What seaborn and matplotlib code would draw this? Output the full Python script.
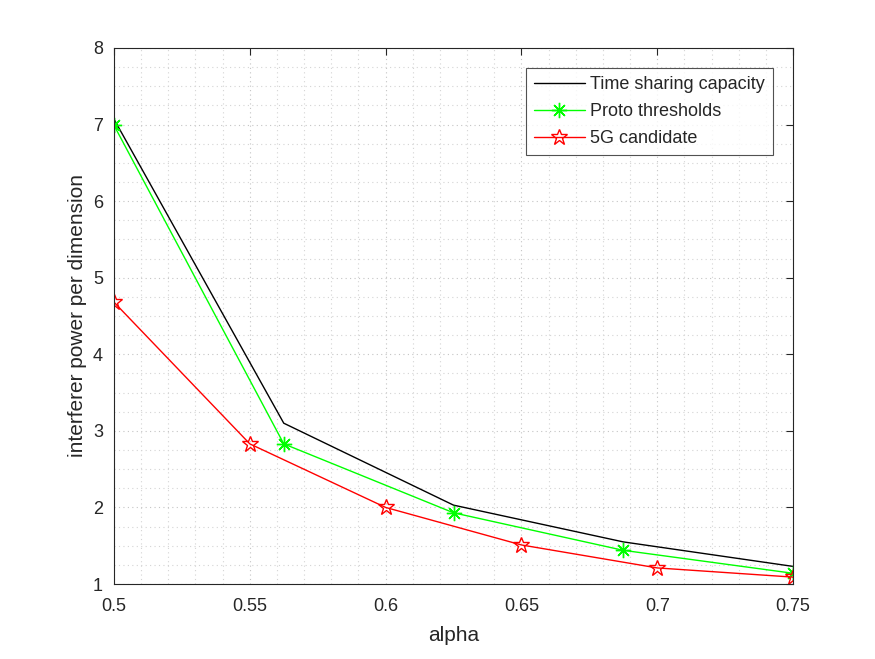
import matplotlib
matplotlib.use("Agg")
import matplotlib.pyplot as plt
from matplotlib.ticker import MultipleLocator
import seaborn as sns
import pandas as pd

# data
alpha_coarse = [0.5, 0.5625, 0.625, 0.6875, 0.75]
time_sharing = [7.07, 3.10, 2.03, 1.55, 1.23]
proto = [6.99, 2.83, 1.93, 1.44, 1.14]
alpha_fine = [0.5, 0.55, 0.6, 0.65, 0.7, 0.75]
candidate_5g = [4.68, 2.83, 2.00, 1.51, 1.21, 1.09]
labels = ["Time sharing capacity", "Proto thresholds", "5G candidate"]

sns.set_style("white")
plt.rcParams["font.family"] = ["Liberation Sans", "DejaVu Sans"]

fig = plt.figure(figsize=(8.75, 6.59), dpi=100)
ax = fig.add_axes([0.1303, 0.1138, 0.776, 0.8134])

df1 = pd.DataFrame({"alpha": alpha_coarse, "p": time_sharing})
df2 = pd.DataFrame({"alpha": alpha_coarse, "p": proto})
df3 = pd.DataFrame({"alpha": alpha_fine, "p": candidate_5g})

sns.lineplot(data=df1, x="alpha", y="p", ax=ax, color="black", lw=1,
             label=labels[0])
sns.lineplot(data=df2, x="alpha", y="p", ax=ax, color="#00ff00", lw=1,
             marker=(8, 2, 0), markersize=11, markeredgewidth=1,
             markeredgecolor="#00ff00", label=labels[1])
sns.lineplot(data=df3, x="alpha", y="p", ax=ax, color="red", lw=1,
             marker="*", markersize=12, markerfacecolor="none",
             markeredgewidth=1, markeredgecolor="red", label=labels[2])

ax.set_xlim(0.5, 0.75)
ax.set_ylim(1, 8)
ax.xaxis.set_major_locator(MultipleLocator(0.05))
ax.xaxis.set_minor_locator(MultipleLocator(0.01))
ax.yaxis.set_major_locator(MultipleLocator(1))
ax.yaxis.set_minor_locator(MultipleLocator(0.25))
ax.set_xticks([0.5, 0.55, 0.6, 0.65, 0.7, 0.75])
ax.set_xticklabels(["0.5", "0.55", "0.6", "0.65", "0.7", "0.75"])

ax.grid(which="major", color="#c4c4c4", linestyle=(0, (1, 3)), linewidth=0.8)
ax.grid(which="minor", color="#d4d4d4", linestyle=(0, (1, 3)), linewidth=0.8)
ax.set_axisbelow(True)

ax.tick_params(which="both", direction="in", top=True, right=True,
               labelsize=13, colors="#262626", length=5)
ax.tick_params(axis="x", pad=10)
ax.tick_params(axis="y", pad=8)
ax.tick_params(which="minor", length=0)
for s in ax.spines.values():
    s.set_color("#262626")
    s.set_linewidth(0.8)

ax.set_xlabel("alpha", fontsize=15, color="#262626", labelpad=8)
ax.set_ylabel("interferer power per dimension", fontsize=15, color="#262626",
              labelpad=4)

leg = ax.legend(loc="upper right", bbox_to_anchor=(0.9705, 0.9627),
                borderaxespad=0, fontsize=13, frameon=True, fancybox=False,
                edgecolor="#262626", borderpad=0.45, labelspacing=0.55,
                handlelength=2.8, handletextpad=0.3)
leg.get_frame().set_linewidth(0.8)

plt.savefig("out.png", dpi=100)
